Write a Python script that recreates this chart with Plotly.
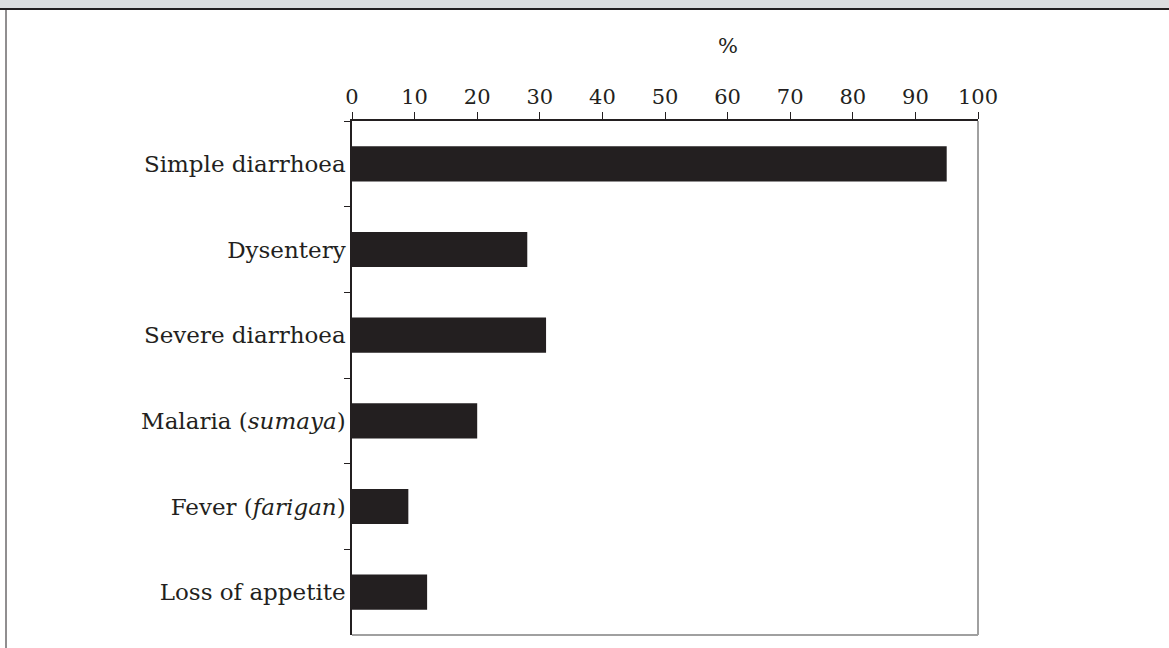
import plotly.graph_objects as go

categories = ["Simple diarrhoea", "Dysentery", "Severe diarrhoea",
              "Malaria (<i>sumaya</i>)", "Fever (<i>farigan</i>)", "Loss of appetite"]
values = [95, 28, 31, 20, 9, 12]
x_ticks = [0, 10, 20, 30, 40, 50, 60, 70, 80, 90, 100]
axis_title = "%"

FONT = "DejaVu Serif"
TXT = "#231f20"

fig = go.Figure(go.Bar(
    x=values, y=categories, orientation="h",
    marker=dict(color="#231f20", line=dict(width=0)),
    width=0.41,
))

fig.update_layout(
    width=1169, height=648,
    margin=dict(l=352, r=191, t=121, b=13),
    paper_bgcolor="white", plot_bgcolor="white",
    showlegend=False,
    font=dict(family=FONT, size=22, color=TXT),
    xaxis=dict(
        range=[0, 100], side="top", tickvals=x_ticks,
        showgrid=False, zeroline=False,
        showline=True, linecolor="#231f20", linewidth=1.5,
        ticks="outside", ticklen=7, tickcolor="#231f20", tickwidth=1,
        tickfont=dict(family=FONT, size=21, color=TXT),
        fixedrange=True,
    ),
    yaxis=dict(
        autorange="reversed", type="category",
        showgrid=False, zeroline=False,
        showline=True, linecolor="#231f20", linewidth=1.5,
        ticks="outside", tickson="boundaries", ticklen=6,
        tickcolor="#231f20", tickwidth=1,
        tickfont=dict(family=FONT, size=23, color=TXT),
        fixedrange=True,
    ),
    shapes=[
        # caption strip at top
        dict(type="rect", xref="paper", yref="paper", layer="above",
             x0=-352/626, x1=(1169-352)/626, y0=1+112/514, y1=1+122/514,
             fillcolor="#dcdddf", line=dict(width=0)),
        dict(type="line", xref="paper", yref="paper",
             x0=-352/626, x1=(1169-352)/626, y0=1+112/514, y1=1+112/514,
             line=dict(color="#231f20", width=2)),
        # left frame line
        dict(type="line", xref="paper", yref="paper",
             x0=-346/626, x1=-346/626, y0=-13/514, y1=1+112/514,
             line=dict(color="#231f20", width=1)),
        # right and bottom grey borders of plot
        dict(type="line", xref="paper", yref="paper",
             x0=1, x1=1, y0=0, y1=1, line=dict(color="#a0a0a0", width=2)),
        dict(type="line", xref="paper", yref="paper",
             x0=0, x1=1, y0=0, y1=0, line=dict(color="#a0a0a0", width=2)),
    ],
    annotations=[
        dict(text=axis_title, xref="x", yref="paper", x=60.1, y=1+75/514,
             showarrow=False, xanchor="center", yanchor="middle",
             font=dict(family=FONT, size=21, color=TXT)),
    ],
)

fig.write_html("out.html", config={"displayModeBar": False},
               post_script="document.body.style.margin='0';")
